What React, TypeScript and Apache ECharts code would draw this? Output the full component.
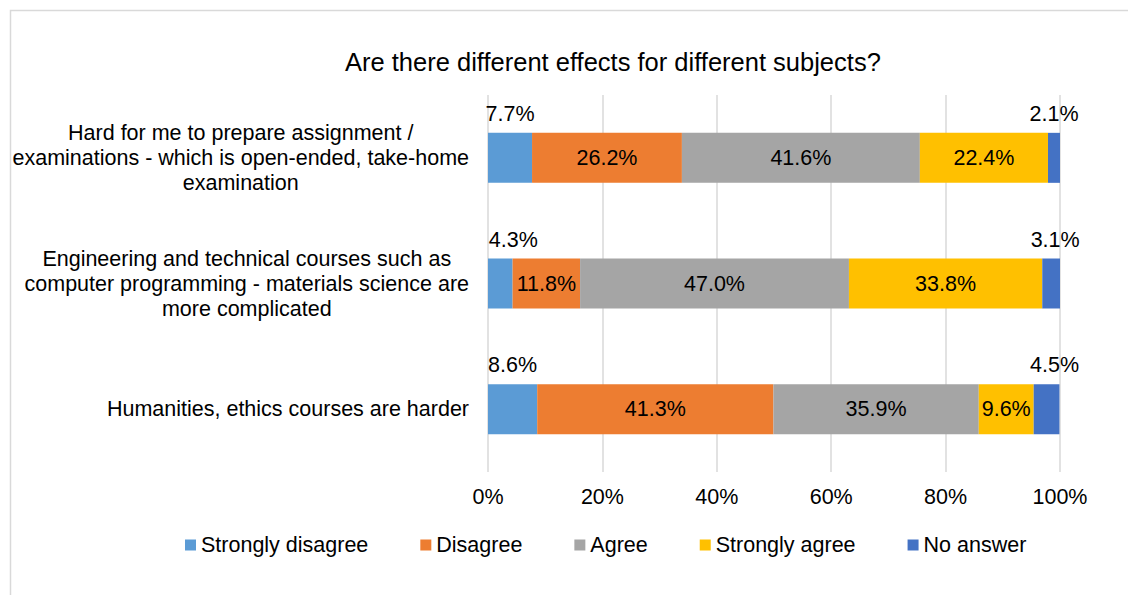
import React, { useEffect, useRef } from "react";
import * as echarts from "echarts";

const categories = [
  "Hard for me to prepare assignment /\nexaminations - which is open-ended, take-home\nexamination",
  "Engineering and technical courses such as\ncomputer programming - materials science are\nmore complicated",
  "Humanities, ethics courses are harder",
];
const seriesNames = ["Strongly disagree", "Disagree", "Agree", "Strongly agree", "No answer"];
const stronglyDisagree = [7.7, 4.3, 8.6];
const disagree = [26.2, 11.8, 41.3];
const agree = [41.6, 47.0, 35.9];
const stronglyAgree = [22.4, 33.8, 9.6];
const noAnswer = [2.1, 3.1, 4.5];
const colors = ["#5B9BD5", "#ED7D31", "#A5A5A5", "#FFC000", "#4472C4"];
const xTicks = [0, 20, 40, 60, 80, 100];

const FONT = "'Liberation Sans', Arial, sans-serif";
const FS = 21.5;

// horizontal nudges (px) for the outside-bar labels, keyed "series-row"
const labelNudge: Record<string, number> = { "0-1": 13, "4-1": 4, "4-2": 8 };

export default function App() {
  const ref = useRef<HTMLDivElement>(null);
  useEffect(() => {
    if (!ref.current) return;
    const chart = echarts.init(ref.current, null, { renderer: "svg" });
    const all = [stronglyDisagree, disagree, agree, stronglyAgree, noAnswer];
    const series = all.map((vals, si) => ({
      name: seriesNames[si],
      type: "bar",
      stack: "total",
      barWidth: 50,
      itemStyle: { color: colors[si] },
      data: vals.map((v, ri) => ({
        value: v,
        label: {
          show: true,
          position: v < 9 ? "top" : "inside",
          distance: 8,
          offset: [labelNudge[si + "-" + ri] || 0, 0],
          formatter: () => v.toFixed(1) + "%",
          color: "#000",
          fontSize: FS,
          fontFamily: FONT,
        },
      })),
    }));
    chart.setOption({
      animation: false,
      color: colors,
      textStyle: { fontFamily: FONT },
      title: {
        text: "Are there different effects for different subjects?",
        left: 340,
        top: 44,
        textStyle: { fontSize: 25.5, fontWeight: "normal", color: "#000", fontFamily: FONT },
      },
      graphic: [
        {
          type: "rect",
          shape: { x: 10.5, y: 10.5, width: 1140, height: 620 },
          style: { fill: "none", stroke: "#d9d9d9", lineWidth: 1.5 },
          silent: true,
        },
      ],
      legend: {
        data: seriesNames,
        left: 180,
        top: 529,
        itemWidth: 11,
        itemHeight: 11,
        itemGap: 52,
        icon: "rect",
        textStyle: { fontSize: FS, color: "#000", fontFamily: FONT },
      },
      grid: { left: 488, right: 68, top: 95, bottom: 123, containLabel: false },
      xAxis: {
        type: "value",
        min: 0,
        max: 100,
        interval: 20,
        axisLine: { show: false },
        axisTick: { show: false },
        axisLabel: {
          margin: 14,
          fontSize: FS,
          color: "#000",
          fontFamily: FONT,
          formatter: (v: number) => (xTicks.includes(v) ? v + "%" : ""),
        },
        splitLine: { show: true, lineStyle: { color: "#d9d9d9", width: 1.5 } },
      },
      yAxis: {
        type: "category",
        inverse: true,
        data: categories,
        axisLine: { show: false },
        axisTick: { show: false },
        axisLabel: {
          margin: 19,
          color: "#000",
          align: "right",
          fontFamily: FONT,
          fontSize: FS,
          lineHeight: 25,
          formatter: (v: string) =>
            v
              .split("\n")
              .map((l) => "{c|" + l + "}")
              .join("\n"),
          rich: {
            c: {
              align: "center",
              fontSize: FS,
              lineHeight: 25,
              color: "#000",
              fontFamily: FONT,
            },
          },
        },
      },
      series,
    });
    return () => chart.dispose();
  }, []);
  return (
    <div
      ref={ref}
      style={{ position: "absolute", left: 0, top: 0, width: 1128, height: 595 }}
    />
  );
}
